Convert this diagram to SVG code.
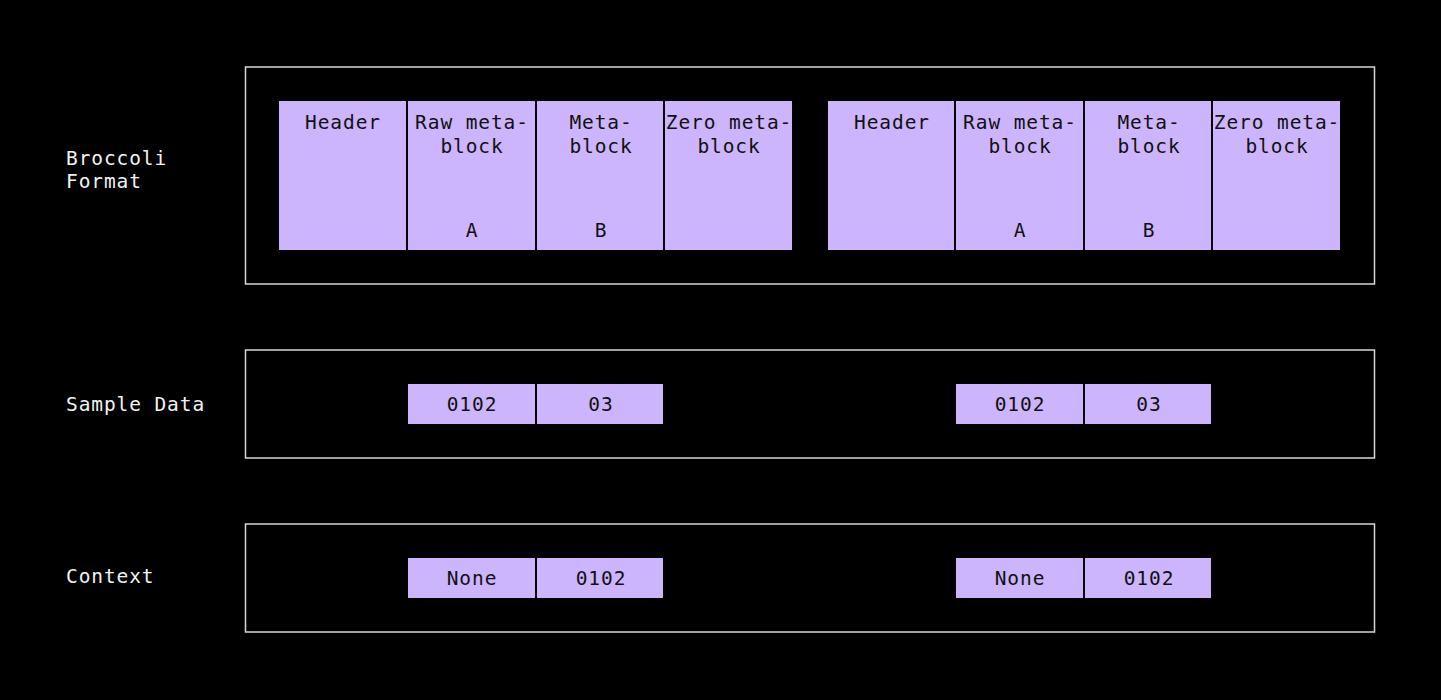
<svg xmlns="http://www.w3.org/2000/svg" width="1441" height="700" viewBox="0 0 1441 700">
<style>
text{font-family:"DejaVu Sans Mono","Liberation Mono",monospace;font-size:19.5px;letter-spacing:0.9px}
.lbl{fill:#f2f2f2}
.cell{fill:#ccb5fc}
.ct{fill:#111111;text-anchor:middle}
.frame{fill:none;stroke:#d6d6d6;stroke-width:1.5}
</style>
<rect width="1441" height="700" fill="#000"/>
<g id="frames">
<rect class="frame" x="245.5" y="67" width="1129" height="217"/>
<rect class="frame" x="245.5" y="350" width="1129" height="108"/>
<rect class="frame" x="245.5" y="524" width="1129" height="108"/>
</g>
<g id="labels">
<text class="lbl" x="66" y="165">Broccoli</text>
<text class="lbl" x="66" y="188">Format</text>
<text class="lbl" x="66" y="411">Sample Data</text>
<text class="lbl" x="66" y="583">Context</text>
</g>
<g id="format-1">
<rect class="cell" x="279" y="101" width="127" height="149"/>
<text class="ct" x="343" y="129">Header</text>
<rect class="cell" x="408" y="101" width="127" height="149"/>
<text class="ct" x="472" y="129">Raw meta-</text>
<text class="ct" x="472" y="153">block</text>
<text class="ct" x="472" y="237">A</text>
<rect class="cell" x="537" y="101" width="126" height="149"/>
<text class="ct" x="601" y="129">Meta-</text>
<text class="ct" x="601" y="153">block</text>
<text class="ct" x="601" y="237">B</text>
<rect class="cell" x="665" y="101" width="127" height="149"/>
<text class="ct" x="729" y="129">Zero meta-</text>
<text class="ct" x="729" y="153">block</text>
</g>
<g id="format-2">
<rect class="cell" x="828" y="101" width="126" height="149"/>
<text class="ct" x="892" y="129">Header</text>
<rect class="cell" x="956" y="101" width="127" height="149"/>
<text class="ct" x="1020" y="129">Raw meta-</text>
<text class="ct" x="1020" y="153">block</text>
<text class="ct" x="1020" y="237">A</text>
<rect class="cell" x="1085" y="101" width="126" height="149"/>
<text class="ct" x="1149" y="129">Meta-</text>
<text class="ct" x="1149" y="153">block</text>
<text class="ct" x="1149" y="237">B</text>
<rect class="cell" x="1213" y="101" width="127" height="149"/>
<text class="ct" x="1277" y="129">Zero meta-</text>
<text class="ct" x="1277" y="153">block</text>
</g>
<g id="sample-1">
<rect class="cell" x="408" y="384" width="127" height="40"/>
<text class="ct" x="472" y="411">0102</text>
<rect class="cell" x="537" y="384" width="126" height="40"/>
<text class="ct" x="601" y="411">03</text>
</g>
<g id="sample-2">
<rect class="cell" x="956" y="384" width="127" height="40"/>
<text class="ct" x="1020" y="411">0102</text>
<rect class="cell" x="1085" y="384" width="126" height="40"/>
<text class="ct" x="1149" y="411">03</text>
</g>
<g id="context-1">
<rect class="cell" x="408" y="558" width="127" height="40"/>
<text class="ct" x="472" y="585">None</text>
<rect class="cell" x="537" y="558" width="126" height="40"/>
<text class="ct" x="601" y="585">0102</text>
</g>
<g id="context-2">
<rect class="cell" x="956" y="558" width="127" height="40"/>
<text class="ct" x="1020" y="585">None</text>
<rect class="cell" x="1085" y="558" width="126" height="40"/>
<text class="ct" x="1149" y="585">0102</text>
</g>
<g id="connectors"></g>
</svg>
